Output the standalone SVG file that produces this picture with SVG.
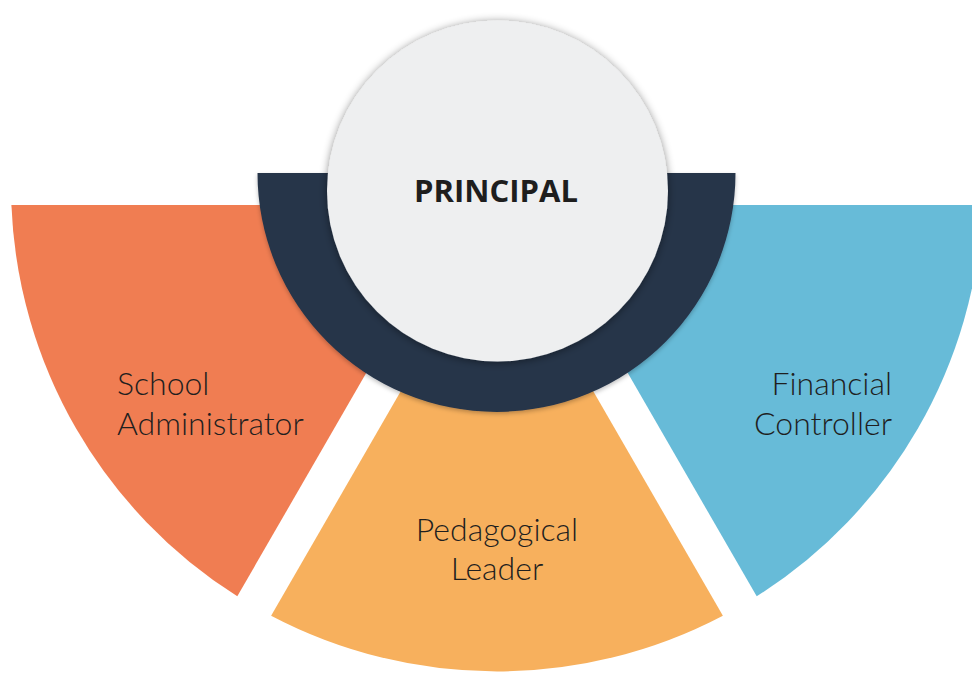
<svg xmlns="http://www.w3.org/2000/svg" width="972" height="674" viewBox="0 0 972 674">
  <defs>
    <filter id="shadow" x="-20%" y="-20%" width="140%" height="140%">
      <feDropShadow dx="0" dy="1" stdDeviation="4" flood-color="#000000" flood-opacity="0.45"/>
    </filter>
    <filter id="shadowSoft" x="-10%" y="-10%" width="120%" height="130%">
      <feDropShadow dx="0" dy="2" stdDeviation="2" flood-color="#000000" flood-opacity="0.25"/>
    </filter>
  </defs>
  <style>
    .label { font-family: Lato, "Open Sans", "Liberation Sans", sans-serif; font-size: 32px; font-weight: 300; fill: #1f1f1f; }
    .title { font-family: "Open Sans", "Liberation Sans", sans-serif; font-size: 31px; font-weight: bold; fill: #1e1e1e; }
  </style>
  <rect width="972" height="674" fill="#ffffff"/>

  <g id="school-administrator">
    <path d="M 463.2 205 L 11.4 205 A 486 486 0 0 0 237.3 596.3 Z" fill="#F07D52"/>
    <text class="label" x="117" y="395">School</text>
    <text class="label" x="117" y="435">Administrator</text>
  </g>

  <g id="pedagogical-leader">
    <path d="M 497 224.5 L 722.9 615.8 A 486 486 0 0 1 271.1 615.8 Z" fill="#F7B05D"/>
    <text class="label" x="497" y="541" text-anchor="middle">Pedagogical</text>
    <text class="label" x="497" y="580" text-anchor="middle">Leader</text>
  </g>

  <g id="financial-controller">
    <path d="M 530.8 205 L 756.7 596.3 A 486 486 0 0 0 982.6 205 Z" fill="#67BBD8"/>
    <text class="label" x="892" y="395" text-anchor="end">Financial</text>
    <text class="label" x="892" y="435" text-anchor="end">Controller</text>
  </g>

  <g id="connectors"></g>

  <g id="principal">
    <path d="M 257.5 173 H 735.5 A 239 239 0 0 1 257.5 173 Z" fill="#27354A" filter="url(#shadowSoft)"/>
    <circle cx="497.5" cy="191" r="170.5" fill="#EEEFF0" filter="url(#shadow)"/>
    <text class="title" x="496" y="202" text-anchor="middle">PRINCIPAL</text>
  </g>
</svg>
